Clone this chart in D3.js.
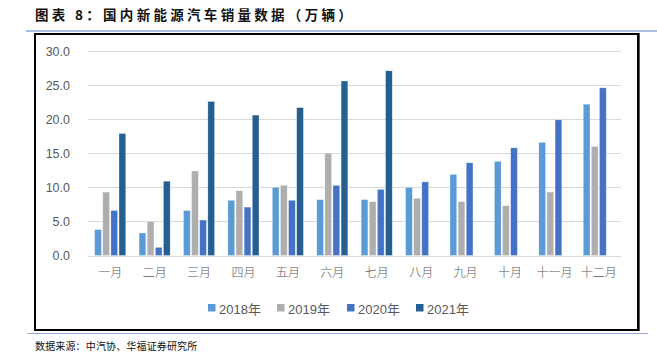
<!DOCTYPE html>
<html><head><meta charset="utf-8">
<script src="https://cdn.jsdelivr.net/npm/d3@7"></script>
<style>
html,body{margin:0;padding:0;background:#fff;}
svg{display:block;}
</style></head>
<body>
<svg id="c" width="657" height="362"></svg>
<script>
const months = ["一月","二月","三月","四月","五月","六月","七月","八月","九月","十月","十一月","十二月"];
const seriesNames = ["2018年","2019年","2020年","2021年"];
const s2018 = [3.8,3.3,6.6,8.1,10.0,8.2,8.2,10.0,11.9,13.8,16.6,22.2];
const s2019 = [9.3,5.0,12.4,9.5,10.3,15.0,7.9,8.4,7.9,7.3,9.3,16.0];
const s2020 = [6.6,1.2,5.2,7.1,8.1,10.3,9.7,10.8,13.6,15.8,19.9,24.6];
const s2021 = [17.9,10.9,22.6,20.6,21.7,25.6,27.1,null,null,null,null,null];
const yTicks = [0,5,10,15,20,25,30];
const colors = ["#5B9BD5","#AEAEAE","#4472C4","#255E91"];
const titleText = "图表 8：国内新能源汽车销量数据（万辆）";
const sourceText = "数据来源：中汽协、华福证券研究所";

const allSeries = [s2018,s2019,s2020,s2021];
const svg = d3.select("#c");

// title
svg.append("text").attr("x",35).attr("y",20)
  .attr("font-family","'Noto Sans CJK SC'").attr("font-weight","bold")
  .attr("font-size",13.5).attr("letter-spacing",3.3).attr("fill","#111")
  .text(titleText);
svg.append("line").attr("x1",26).attr("x2",657).attr("y1",31).attr("y2",31)
  .attr("stroke","#8EA9D8").attr("stroke-width",1.5);

// frame
svg.append("rect").attr("x",35).attr("y",34).attr("width",603).attr("height",296)
  .attr("fill","#fff").attr("stroke","#000").attr("stroke-width",2);
svg.append("line").attr("x1",639.5).attr("x2",639.5).attr("y1",33).attr("y2",331)
  .attr("stroke","#555").attr("stroke-width",1);

svg.append("line").attr("x1",27).attr("x2",648).attr("y1",333.5).attr("y2",333.5)
  .attr("stroke","#8EA9D8").attr("stroke-width",1.2);

// scales
const y = d3.scaleLinear().domain([0,30]).range([255.5,51]);
const x0 = d3.scaleBand().domain(months).range([88,621]).paddingInner(0.30).paddingOuter(0.15);
const x1 = d3.scaleBand().domain(seriesNames).range([0,x0.bandwidth()]).paddingInner(0.17);

// grid
const g = svg.append("g");
g.selectAll("line.grid").data(yTicks).enter().append("line")
  .attr("x1",88).attr("x2",621)
  .attr("y1",d=>Math.round(y(d))+0.5).attr("y2",d=>Math.round(y(d))+0.5)
  .attr("stroke","#D9D9D9").attr("stroke-width",1);

// y labels
const yAxis = d3.axisLeft(y).tickValues(yTicks).tickFormat(d3.format(".1f")).tickSize(0).tickPadding(0);
const ya = svg.append("g").attr("transform","translate(70,0)").call(yAxis);
ya.select(".domain").remove();
ya.selectAll("text").attr("font-family","'Liberation Sans', Arial, sans-serif")
  .attr("font-size",12.5).attr("fill","#595959");

// bars
const groups = svg.append("g").selectAll("g").data(months).enter().append("g")
  .attr("transform",d=>`translate(${x0(d)},0)`);
groups.selectAll("rect").data((m,i)=>allSeries.map((s,k)=>({k,v:s[i]})).filter(d=>d.v!=null))
  .enter().append("rect")
  .attr("x",d=>x1(seriesNames[d.k]))
  .attr("width",x1.bandwidth())
  .attr("y",d=>y(d.v))
  .attr("height",d=>y(0)-y(d.v))
  .attr("fill",d=>colors[d.k])
  .attr("stroke","#fff").attr("stroke-opacity",0.5).attr("stroke-width",0.6);

// x labels
const xAxis = d3.axisBottom(d3.scaleBand().domain(months).range([88,621])).tickSize(0).tickPadding(0);
const xa = svg.append("g").attr("transform","translate(0,268)").call(xAxis);
xa.select(".domain").remove();
xa.selectAll("text").attr("font-family","'Noto Sans CJK SC'").attr("font-size",12)
  .attr("font-weight",300).attr("fill","#595959").attr("dy","0.71em");

// legend
const legX = [208,277,347,416];
const leg = svg.append("g").selectAll("g").data(seriesNames).enter().append("g")
  .attr("transform",(d,i)=>`translate(${legX[i]},0)`);
leg.append("rect").attr("x",0).attr("y",304).attr("width",7.5).attr("height",7.5)
  .attr("fill",(d,i)=>colors[i]);
leg.append("text").attr("x",11).attr("y",314)
  .attr("font-family","'Liberation Sans', 'Noto Sans CJK SC', sans-serif").attr("font-size",13)
  .attr("fill","#595959").text(d=>d);

// source
svg.append("text").attr("x",35).attr("y",350)
  .attr("font-family","'Noto Sans CJK SC'").attr("font-size",10).attr("letter-spacing",0.15).attr("fill","#111")
  .text(sourceText);
</script>
</body></html>
